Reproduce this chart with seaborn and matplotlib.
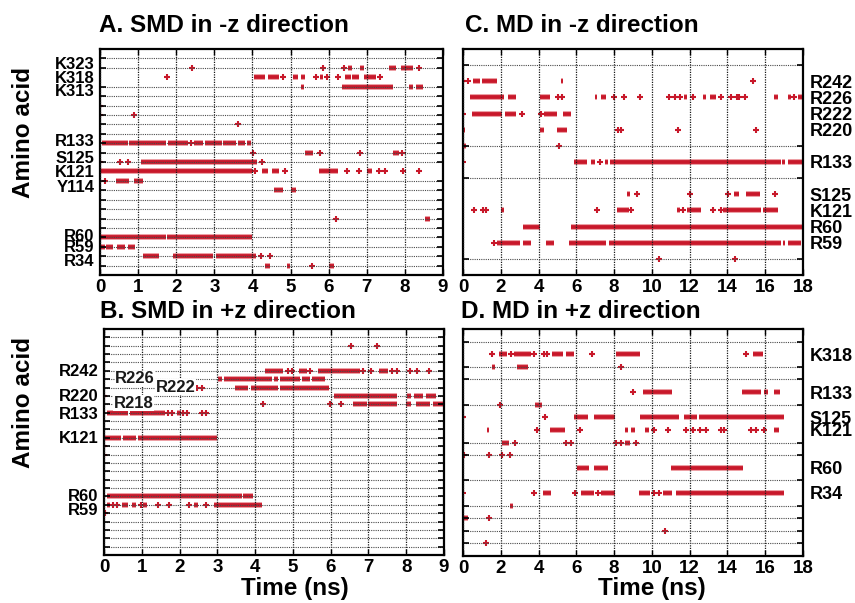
import numpy as np
import pandas as pd
import matplotlib
matplotlib.use("Agg")
import matplotlib.pyplot as plt
import seaborn as sns

# ---------------- data ----------------
# Panel A: SMD in -z direction  (row index, start ns, end ns) / (row, time)
A_spans = [
    (22, 6.52, 6.62), (22, 6.82, 6.92), (22, 7.58, 7.76), (22, 7.90, 8.20),
    (21, 4.03, 4.32), (21, 4.42, 4.70), (21, 5.06, 5.20), (21, 5.27, 5.38), (21, 5.76, 5.86),
    (21, 6.42, 6.58), (21, 6.62, 6.80), (21, 6.92, 7.25),
    (20, 5.28, 5.36), (20, 6.35, 7.70), (20, 8.12, 8.22), (20, 8.30, 8.48),
    (14, 0.06, 0.73), (14, 0.76, 1.74), (14, 1.78, 2.31), (14, 2.47, 2.70), (14, 2.75, 3.19),
    (14, 3.23, 3.58), (14, 3.63, 3.80), (14, 3.85, 3.97),
    (13, 5.38, 5.58), (13, 7.70, 7.84),
    (12, 1.08, 4.12),
    (11, 0.00, 4.00), (11, 4.26, 4.42), (11, 4.52, 4.70), (11, 5.75, 6.25), (11, 7.00, 7.15),
    (10, 0.42, 0.77), (10, 0.88, 1.12),
    (9, 4.56, 4.79), (9, 5.02, 5.14),
    (6, 8.53, 8.66),
    (4, 0.00, 1.72), (4, 1.76, 4.00),
    (3, 0.00, 0.12), (3, 0.17, 0.34), (3, 0.45, 0.66), (3, 0.74, 0.93),
    (2, 1.13, 1.55), (2, 1.92, 2.96), (2, 3.05, 4.10),
    (1, 4.33, 4.45), (1, 4.90, 4.98), (1, 6.02, 6.14),
]
A_points = [
    (22, 2.42), (22, 5.86), (22, 6.40), (22, 8.36),
    (21, 1.77), (21, 4.81), (21, 5.68), (21, 5.95), (21, 6.25), (21, 7.35),
    (18, 0.00), (17, 0.00), (17, 0.89), (16, 3.63),
    (14, 2.40),
    (13, 4.02), (13, 5.77), (13, 6.81), (13, 7.92),
    (12, 0.00), (12, 0.52), (12, 0.73), (12, 4.24),
    (11, 4.06), (11, 4.86), (11, 6.49), (11, 6.80), (11, 7.33), (11, 7.48), (11, 7.96), (11, 8.38),
    (10, 0.13),
    (6, 6.18),
    (2, 4.23), (2, 4.45),
    (1, 5.57),
]
A_labels = ["K323", "K318", "K313", "R133", "S125", "K121", "Y114", "R60", "R59", "R34"]
A_label_rows = [22.5, 21.0, 19.6, 14.3, 12.5, 11.0, 9.5, 4.25, 3.1, 1.6]

# Panel B: SMD in +z direction
B_spans = [
    (22, 4.27, 4.75), (22, 5.15, 5.38), (22, 5.67, 6.78), (22, 7.27, 7.53),
    (21, 3.03, 3.12), (21, 3.18, 4.45), (21, 4.50, 4.60), (21, 4.65, 5.18), (21, 5.24, 5.45), (21, 5.50, 5.85),
    (20, 3.47, 3.80), (20, 3.88, 4.60), (20, 4.65, 5.95),
    (19, 6.08, 7.75), (19, 8.03, 8.12), (19, 8.20, 8.45), (19, 8.52, 8.80),
    (18, 6.60, 6.95), (18, 7.00, 7.75), (18, 8.00, 8.12), (18, 8.25, 8.62), (18, 8.70, 8.98),
    (17, 0.07, 0.64), (17, 0.69, 1.62), (17, 1.92, 2.03),
    (14, 0.03, 0.45), (14, 0.50, 0.85), (14, 0.90, 2.98),
    (7, 0.07, 3.64), (7, 3.67, 3.95),
    (6, 0.07, 0.16), (6, 0.47, 0.64), (6, 0.73, 0.85), (6, 1.02, 1.13), (6, 2.37, 2.50), (6, 2.90, 4.17),
]
B_points = [
    (25, 6.53), (25, 7.22),
    (22, 4.88), (22, 4.97), (22, 5.45), (22, 6.85), (22, 7.06), (22, 7.62), (22, 7.75),
    (22, 8.10), (22, 8.28), (22, 8.61),
    (20, 2.45), (20, 2.59),
    (19, 0.00),
    (18, 4.22), (18, 5.97), (18, 6.28),
    (17, 1.70), (17, 1.79), (17, 2.10), (17, 2.20), (17, 2.59), (17, 2.70),
    (13, 0.00), (12, 0.00),
    (6, 0.25), (6, 0.34), (6, 0.97), (6, 1.42), (6, 1.73), (6, 2.26), (6, 2.70),
    (5, 0.03),
]
B_labels = ["R242", "R220", "R133", "K121", "R60", "R59"]
B_label_rows = [22.05, 19.1, 16.95, 14.04, 7.18, 5.46]
B_inner_labels = ["R226", "R222", "R218"]
B_inner_x = [0.82, 1.90, 0.79]
B_inner_rows = [21.06, 20.02, 18.1]

# Panel C: MD in -z direction
C_spans = [
    (12, 0.53, 0.92), (12, 1.03, 1.79), (12, 5.19, 5.32),
    (11, 0.36, 2.19), (11, 2.37, 2.81), (11, 4.10, 4.58), (11, 7.00, 7.10), (11, 7.30, 7.58),
    (11, 11.70, 11.88), (11, 12.70, 12.87), (11, 13.05, 13.40), (11, 16.45, 16.68),
    (11, 17.18, 17.35), (11, 17.74, 17.94),
    (10, 0.45, 2.06), (10, 2.23, 2.81), (10, 4.30, 4.96), (10, 5.30, 5.70),
    (9, 0.00, 0.13), (9, 4.10, 4.30), (9, 4.98, 5.48),
    (8, 0.00, 0.14),
    (7, 5.86, 6.55), (7, 6.75, 7.00), (7, 7.52, 7.68), (7, 7.80, 16.85), (7, 16.90, 17.05), (7, 17.22, 17.95),
    (5, 8.67, 8.82), (5, 14.36, 14.60), (5, 14.98, 15.72),
    (4, 2.00, 2.16), (4, 8.14, 8.80), (4, 11.34, 11.50), (4, 11.88, 12.62), (4, 13.78, 15.77), (4, 15.89, 16.70),
    (3, 3.18, 4.10), (3, 5.72, 17.95),
    (2, 1.80, 3.02), (2, 3.18, 3.60), (2, 4.42, 4.83), (2, 5.60, 7.58), (2, 7.75, 16.85),
    (2, 16.92, 17.05), (2, 17.20, 17.90),
]
C_points = [
    (12, 0.00), (12, 0.29), (12, 15.35),
    (11, 5.02), (11, 5.25), (11, 7.98), (11, 8.53), (11, 9.37), (11, 10.90), (11, 11.22), (11, 11.49),
    (11, 12.15), (11, 13.66), (11, 14.20), (11, 14.53), (11, 14.63), (11, 14.93), (11, 17.52),
    (10, 0.00), (10, 3.11), (10, 4.12),
    (9, 8.18), (9, 8.34), (9, 11.40), (9, 15.50),
    (8, 5.06),
    (7, 0.00), (7, 7.23),
    (5, 9.20), (5, 12.02), (5, 14.03), (5, 16.52),
    (4, 0.58), (4, 1.07), (4, 1.20), (4, 7.08), (4, 8.92), (4, 11.67), (4, 13.24), (4, 13.68),
    (2, 1.66),
    (1, 10.37), (1, 14.42),
]
C_labels = ["R242", "R226", "R222", "R220", "R133", "S125", "K121", "R60", "R59"]
C_label_rows = [12, 11, 10, 9, 7, 5, 4, 3, 2]

# Panel D: MD in +z direction
D_spans = [
    (16, 1.88, 2.35), (16, 2.72, 3.60), (16, 4.70, 5.28), (16, 5.45, 5.88), (16, 8.10, 9.35), (16, 15.35, 15.90),
    (15, 1.52, 1.72), (15, 2.88, 3.45),
    (13, 9.52, 11.08), (13, 14.75, 15.79), (13, 15.92, 16.14), (13, 16.47, 16.80),
    (12, 3.82, 4.20),
    (11, 5.87, 6.64), (11, 6.92, 8.05), (11, 9.36, 11.45), (11, 11.70, 12.38), (11, 12.50, 17.02),
    (10, 1.25, 1.40), (10, 4.62, 5.40), (10, 8.55, 8.71), (10, 8.92, 9.12), (10, 9.62, 9.84), (10, 16.47, 16.72),
    (9, 2.06, 2.46), (9, 8.58, 8.86),
    (7, 6.01, 6.65), (7, 6.92, 7.68), (7, 11.03, 14.83),
    (5, 4.24, 4.68), (5, 6.24, 6.94), (5, 7.30, 8.04), (5, 9.30, 9.92), (5, 10.59, 11.08), (5, 11.28, 17.02),
    (4, 2.48, 2.66),
    (3, 0.00, 0.24),
]
D_points = [
    (16, 1.55), (16, 2.55), (16, 3.78), (16, 4.30), (16, 4.47), (16, 6.85), (16, 14.98),
    (15, 8.34),
    (13, 9.00),
    (12, 1.95),
    (11, 0.00), (11, 4.35),
    (10, 3.93), (10, 6.22), (10, 10.12), (10, 10.87), (10, 11.80), (10, 12.16), (10, 12.54),
    (10, 12.88), (10, 13.66), (10, 13.83), (10, 15.25), (10, 15.51), (10, 15.95),
    (9, 2.76), (9, 5.46), (9, 5.73), (9, 8.12), (9, 8.39), (9, 9.16),
    (8, 0.06), (8, 1.39), (8, 2.08), (8, 2.50),
    (5, 0.00), (5, 3.77), (5, 5.95), (5, 7.14), (5, 10.12), (5, 10.35),
    (3, 1.40),
    (2, 10.70),
    (1, 1.22),
]
D_labels = ["K318", "R133", "S125", "K121", "R60", "R34"]
D_label_rows = [16, 13, 11, 10, 7, 5]

titles = ["A. SMD in -z direction", "B. SMD in +z direction",
          "C. MD in -z direction", "D. MD in +z direction"]
ylabel_text = "Amino acid"
xlabel_text = "Time (ns)"

# ---------------- style ----------------
sns.set_theme(style="white")
plt.rcParams["font.family"] = ["Liberation Sans", "DejaVu Sans"]
plt.rcParams["font.weight"] = "bold"
for k in ["text.color", "axes.labelcolor", "xtick.color", "ytick.color", "axes.edgecolor"]:
    plt.rcParams[k] = "black"

RED = "#c8182a"
HALO = "#e8868c"
GRID = "#4a4a4a"

W, H = 855, 603
fig = plt.figure(figsize=(W / 100, H / 100), dpi=100)


def add_axes(l, t, r, b):
    return fig.add_axes([l / W, 1 - b / H, (r - l) / W, (b - t) / H])


def draw_panel(ax, spans, points, xmax, xstep, nrows, labels, label_rows, side, lsize):
    s = np.array(spans, dtype=float)
    ax.hlines(s[:, 0], s[:, 1], s[:, 2], color=HALO, lw=4.0, capstyle="butt", zorder=1)
    ax.hlines(s[:, 0], s[:, 1], s[:, 2], color=RED, lw=2.7, capstyle="butt", zorder=1.1)
    df = pd.DataFrame(points, columns=["row", "time"])
    sns.scatterplot(data=df, x="time", y="row", marker="+", s=22, color=RED,
                    linewidth=1.5, ax=ax, legend=False, zorder=1.2)
    ax.set_xlim(0, xmax)
    ax.set_ylim(0, nrows)
    ax.set_xlabel("")
    ax.set_ylabel("")
    ax.set_axisbelow(False)
    ax.set_xticks(np.arange(0, xmax + 0.01, xstep))
    ax.set_xticklabels([f"{int(v)}" for v in np.arange(0, xmax + 0.01, xstep)],
                       fontsize=13.5, fontweight="bold")
    ax.set_yticks(np.arange(1, nrows), minor=True)
    ax.set_yticks(label_rows)
    ax.set_yticklabels(labels, fontsize=lsize, fontweight="bold")
    ax.tick_params(axis="x", which="major", direction="in", length=4, width=1,
                   top=True, bottom=True, pad=3, colors="black")
    ax.tick_params(axis="y", which="minor", direction="in", length=4, width=1.2,
                   left=True, right=True, colors="black")
    if side == "left":
        ax.tick_params(axis="y", which="major", length=0, pad=4,
                       labelleft=True, labelright=False, labelcolor="black")
    else:
        ax.tick_params(axis="y", which="major", length=0, pad=5,
                       labelleft=False, labelright=True, labelcolor="black")
    ax.grid(False)
    ax.grid(True, axis="y", which="minor", color=GRID, lw=0.8, ls=(0, (1, 1)))
    ax.grid(True, axis="x", which="major", color="#1a1a1a", lw=0.9, ls=(0, (1, 1)))
    for sp in ax.spines.values():
        sp.set_color("black")
        sp.set_linewidth(1.6)
        sp.set_visible(True)


axA = add_axes(100, 49, 443, 275)
axB = add_axes(104, 329, 444, 555)
axC = add_axes(463, 49, 803, 275)
axD = add_axes(463, 329, 803, 556)

draw_panel(axA, A_spans, A_points, 9, 1, 24, A_labels, A_label_rows, "left", 12)
draw_panel(axB, B_spans, B_points, 9, 1, 27, B_labels, B_label_rows, "left", 12)
draw_panel(axC, C_spans, C_points, 18, 2, 14, C_labels, C_label_rows, "right", 13)
draw_panel(axD, D_spans, D_points, 18, 2, 18, D_labels, D_label_rows, "right", 13)

for txt, x, y in zip(B_inner_labels, B_inner_x, B_inner_rows):
    axB.text(x, y, txt, ha="center", va="center", fontsize=12, fontweight="bold",
             color="#1a1a1a", zorder=5,
             bbox=dict(facecolor="white", edgecolor="none", pad=0.4))

title_pos = [(99, 25), (100, 312), (465, 25), (461, 312)]
for t, (x, y) in zip(titles, title_pos):
    fig.text(x / W, 1 - y / H, t, ha="left", va="center", fontsize=17.5,
             fontweight="bold", color="black")

fig.text(24 / W, 1 - 133 / H, ylabel_text, rotation=90, ha="center", va="center",
         fontsize=17.5, fontweight="bold", color="black")
fig.text(24 / W, 1 - 402 / H, ylabel_text, rotation=90, ha="center", va="center",
         fontsize=17.5, fontweight="bold", color="black")
fig.text(295 / W, 1 - 589 / H, xlabel_text, ha="center", va="center",
         fontsize=17.5, fontweight="bold", color="black")
fig.text(652 / W, 1 - 589 / H, xlabel_text, ha="center", va="center",
         fontsize=17.5, fontweight="bold", color="black")

fig.savefig("out.png", dpi=100)
